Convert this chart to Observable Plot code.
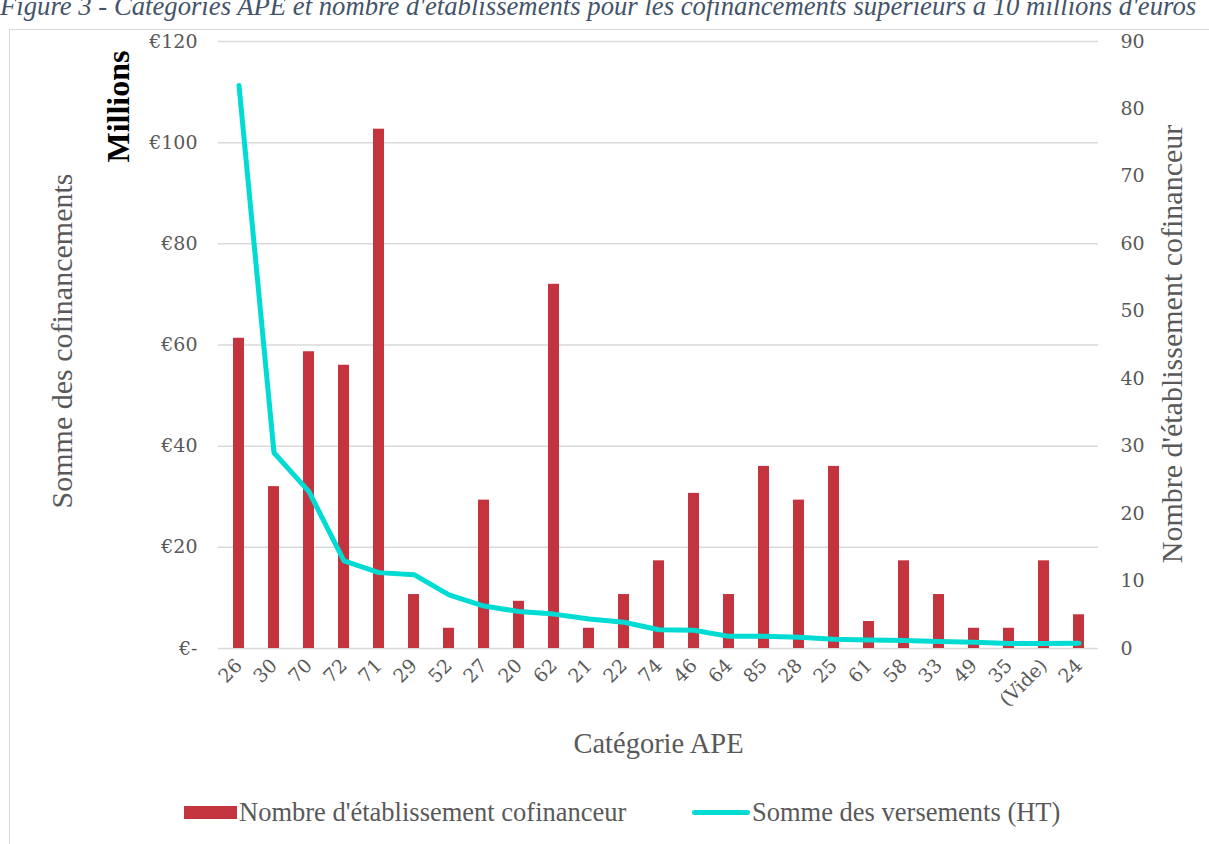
<!DOCTYPE html>
<html>
<head>
<meta charset="utf-8">
<script src="https://cdn.jsdelivr.net/npm/d3@7"></script>
<script src="https://cdn.jsdelivr.net/npm/@observablehq/plot@0.6"></script>
<style>
  html, body { margin: 0; padding: 0; background: #fff; }
  body { width: 1209px; height: 844px; overflow: hidden; position: relative; font-family: "Liberation Serif", serif; }
  #title { position: absolute; left: 0; top: -7px; font-style: italic; font-size: 26.7px; line-height: 27px; color: #44546a; white-space: nowrap; }
  #frame { position: absolute; left: 9px; top: 29px; width: 1300px; height: 900px; border-left: 1.5px solid #d9d9d9; border-top: 1.5px solid #d9d9d9; }
  #chart { position: absolute; left: 0; top: 0; }
  .legitem { position: absolute; top: 797px; height: 30px; display: flex; align-items: center; font-size: 26.5px; color: #595959; white-space: nowrap; }
  .sw-bar { display: inline-block; width: 53px; height: 13px; background: #c3343f; margin-right: 2px; }
  .sw-line { display: inline-block; width: 58px; height: 5px; border-radius: 3px; background: #00dbd3; margin-right: 2px; }
</style>
</head>
<body>
<div id="frame"></div>
<div id="title"></div>
<div id="chart"></div>
<div id="legend"></div>
<script>
// ---- Data ----
const titleText = "Figure 3 - Catégories APE et nombre d'établissements pour les cofinancements supérieurs à 10 millions d'euros";
const categories = ["26","30","70","72","71","29","52","27","20","62","21","22","74","46","64","85","28","25","61","58","33","49","35","(Vide)","24"];
// Nombre d'établissement cofinanceur (right axis)
const counts = [46,24,44,42,77,8,3,22,7,54,3,8,13,23,8,27,22,27,4,13,8,3,3,13,5];
// Somme des versements (HT), millions d'euros (left axis)
const sums = [111.3,38.7,31.0,17.3,15.0,14.6,10.6,8.4,7.3,6.8,5.85,5.2,3.7,3.6,2.4,2.4,2.2,1.85,1.7,1.6,1.4,1.25,1.0,1.0,1.05];
const leftTicks = [0,20,40,60,80,100,120];
const rightTicks = [0,10,20,30,40,50,60,70,80,90];
const seriesNames = ["Nombre d'établissement cofinanceur", "Somme des versements (HT)"];
const axisTitles = {left: "Somme des cofinancements", unit: "Millions", right: "Nombre d'établissement cofinanceur", bottom: "Catégorie APE"};

const leftMax = 120, rightMax = 90;
const k = leftMax / rightMax;

const data = categories.map((c, i) => ({cat: c, count: counts[i], countScaled: counts[i] * k, sum: sums[i]}));

document.getElementById("title").textContent = titleText;

const titleFont = "'Liberation Serif', serif";
const tickFont = "'DejaVu Serif', serif";

const chart = Plot.plot({
  width: 1209,
  height: 790,
  marginLeft: 218,
  marginRight: 111,
  marginTop: 41,
  marginBottom: 142,
  style: {fontFamily: tickFont, fontSize: "19px", color: "#595959", background: "transparent", overflow: "visible"},
  x: {domain: categories, paddingInner: 0.7, paddingOuter: 0.35, axis: null},
  y: {domain: [0, leftMax], axis: null},
  marks: [
    Plot.gridY(leftTicks, {stroke: "#d9d9d9", strokeOpacity: 1, strokeWidth: 1.5}),
    Plot.barY(data, {x: "cat", y: "countScaled", fill: "#c3343f"}),
    Plot.line(data, {x: "cat", y: "sum", stroke: "#00dbd3", strokeWidth: 5, strokeLinecap: "round", strokeLinejoin: "round"}),
    Plot.axisY(leftTicks, {anchor: "left", tickSize: 0, tickPadding: 21, tickFormat: d => d === 0 ? "€-" : "€" + d, label: null, fill: "#595959"}),
    Plot.axisY(rightTicks.map(v => v * k), {anchor: "right", tickSize: 0, tickPadding: 22, tickFormat: d => String(Math.round(d / k)), label: null, fill: "#595959"}),
    Plot.axisX({tickRotate: -45, tickSize: 0, tickPadding: 14, label: null, fill: "#595959"}),
    Plot.text([axisTitles.left], {text: d => d, frameAnchor: "left", dx: -156, dy: -4, rotate: -90, textAnchor: "middle", lineAnchor: "middle", fontFamily: titleFont, fontSize: 30, fill: "#595959"}),
    Plot.text([axisTitles.unit], {text: d => d, frameAnchor: "top-left", dx: -100, dy: 9, rotate: -90, textAnchor: "end", lineAnchor: "middle", fontFamily: titleFont, fontSize: 32, fontWeight: "bold", fill: "#000"}),
    Plot.text([axisTitles.right], {text: d => d, frameAnchor: "right", dx: 74, dy: -1, rotate: -90, textAnchor: "middle", lineAnchor: "middle", fontFamily: titleFont, fontSize: 30, fill: "#595959"}),
    Plot.text([axisTitles.bottom], {text: d => d, frameAnchor: "bottom", dy: 95, textAnchor: "middle", lineAnchor: "middle", fontFamily: titleFont, fontSize: 28.5, fill: "#595959"})
  ]
});
document.getElementById("chart").appendChild(chart);

// Legend
const legend = document.getElementById("legend");
const items = [{name: seriesNames[0], cls: "sw-bar", left: 184}, {name: seriesNames[1], cls: "sw-line", left: 692}];
for (const it of items) {
  const el = document.createElement("div");
  el.className = "legitem";
  el.style.left = it.left + "px";
  const sw = document.createElement("span");
  sw.className = it.cls;
  const tx = document.createElement("span");
  tx.textContent = it.name;
  el.appendChild(sw);
  el.appendChild(tx);
  legend.appendChild(el);
}
</script>
</body>
</html>
